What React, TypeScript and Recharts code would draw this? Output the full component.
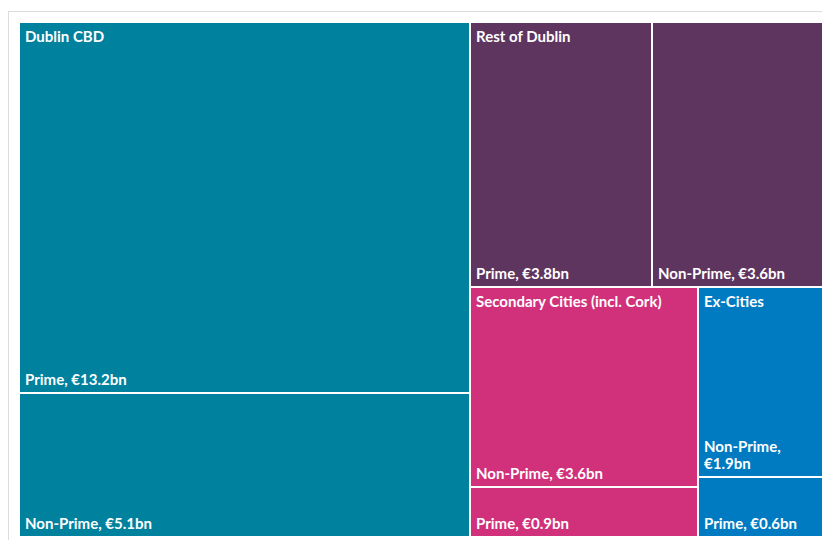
import { Treemap } from "recharts";

const regions = ["Dublin CBD", "Rest of Dublin", "Secondary Cities (incl. Cork)", "Ex-Cities"];
const regionColors = ["#00829f", "#5e355f", "#d1307a", "#007bc2"];
const primeValues = [13.2, 3.8, 0.9, 0.6];
const nonPrimeValues = [5.1, 3.6, 3.6, 1.9];
// order in which the two segments appear inside each region
const primeFirst = [true, true, false, false];

const data = regions.map((region, i) => {
  const prime = { name: "Prime", value: primeValues[i], regionIndex: i };
  const nonPrime = { name: "Non-Prime", value: nonPrimeValues[i], regionIndex: i };
  const children = primeFirst[i] ? [prime, nonPrime] : [nonPrime, prime];
  return {
    name: region,
    children: children.map((c, j) => ({ ...c, isFirst: j === 0 })),
  };
});

const textStyle = {
  fontFamily: "Lato, 'Open Sans', sans-serif",
  fontSize: 15,
  fontWeight: 700,
};

function TreeCell(props: any) {
  const { x, y, width, height, depth, name, value, regionIndex, isFirst } = props;
  if (depth !== 2) return null;
  const amount = `€${Number(value).toFixed(1)}bn`;
  const label = `${name}, ${amount}`;
  const lines = label.length * 7.6 > width - 12 ? [`${name},`, amount] : [label];
  const bottom = y + height - 8;
  return (
    <g>
      <rect x={x} y={y} width={width} height={height} fill={regionColors[regionIndex]} stroke="#fff" strokeWidth={2} />
      {isFirst && (
        <text x={x + 6} y={y + 20} fill="#fff" stroke="none" style={textStyle}>
          {regions[regionIndex]}
        </text>
      )}
      {lines.map((line, k) => (
        <text
          key={k}
          x={x + 6}
          y={bottom - (lines.length - 1 - k) * 17}
          fill="#fff"
          stroke="none"
          style={textStyle}
        >
          {line}
        </text>
      ))}
    </g>
  );
}

export default function App() {
  return (
    <div
      style={{
        position: "fixed",
        left: 0,
        top: 0,
        width: 822,
        height: 540,
        overflow: "hidden",
        background: "#fff",
      }}
    >
      <div
        style={{
          position: "absolute",
          left: 8,
          top: 11,
          width: 900,
          height: 600,
          border: "1px solid #dcdcdc",
          boxSizing: "border-box",
        }}
      />
      <div style={{ position: "absolute", left: 19, top: 22 }}>
        <Treemap
          width={806}
          height={515}
          data={data}
          dataKey="value"
          aspectRatio={1}
          isAnimationActive={false}
          content={<TreeCell />}
        />
      </div>
    </div>
  );
}
